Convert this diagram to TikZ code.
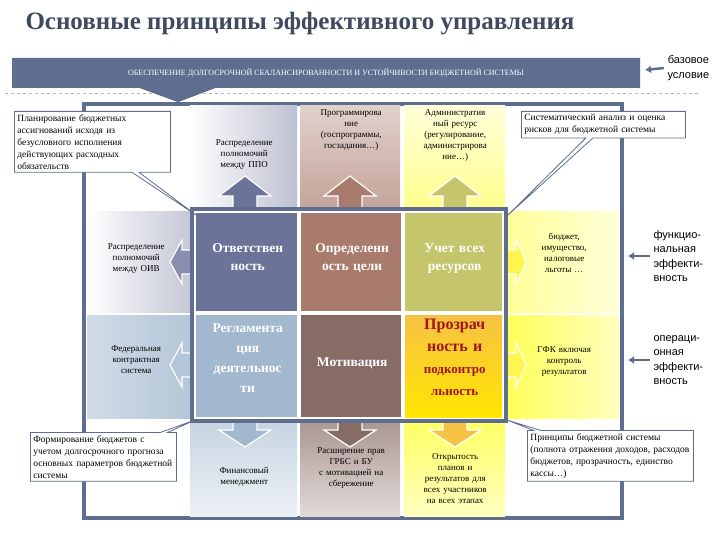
\documentclass[tikz,border=0pt]{standalone}
\usepackage{fontspec}
\setmainfont{Liberation Serif}
\newfontfamily\sansf{Liberation Sans}
\usetikzlibrary{shapes.callouts,arrows.meta}
\definecolor{frameC}{HTML}{5F6D8E}
\definecolor{slate}{HTML}{6C7398}
\definecolor{brownA}{HTML}{A97B6C}
\definecolor{olive}{HTML}{C5C66C}
\definecolor{steel}{HTML}{A2B8CF}
\definecolor{brownB}{HTML}{876C66}
\definecolor{orangeY}{HTML}{F6C244}
\definecolor{darkred}{HTML}{A0141A}
\definecolor{titleC}{HTML}{3E4A5E}
\tikzset{
 x=1pt,y=-1pt,
 cell/.style={anchor=north west,inner sep=1pt,align=center,font=\fontsize{9}{11}\selectfont},
 big/.style={cell,text=white,font=\bfseries\fontsize{13.5}{18}\selectfont},
 call/.style={rectangle callout,draw=frameC,fill=white,thick,anchor=north west,align=left,inner sep=3pt,font=\fontsize{9.5}{12}\selectfont},
 barrow/.style={fill=#1,draw=white,line width=1.2pt},
 side/.style={font=\sansf\fontsize{11}{14.5}\selectfont,align=left,anchor=west},
 sarrow/.style={draw=frameC,line width=2.5pt,-{Latex[length=6pt,width=8pt]}}
}
\begin{document}
\begin{tikzpicture}
\useasboundingbox (0,0) rectangle (720,540);
\fill[white] (0,0) rectangle (720,540);
\node[font=\bfseries\fontsize{25}{28}\selectfont,text=titleC,anchor=west] (title) at (22,24) {Основные принципы эффективного управления};
% banner
\fill[frameC] (12,58) -- (640,58) -- (640,88) -- (215,88) -- (178,102) -- (140,88) -- (12,88) -- cycle;
\node[text=white,font=\fontsize{8}{9}\selectfont] (banner) at (326,73) {ОБЕСПЕЧЕНИЕ ДОЛГОСРОЧНОЙ СБАЛАНСИРОВАННОСТИ И УСТОЙЧИВОСТИ БЮДЖЕТНОЙ СИСТЕМЫ};
\node[side,align=center] (base) at (664,68) {базовое\\условие};
\draw[sarrow] (base.west) -- (645,70);
\draw[gray!60,dashed] (5,93) -- (700,93);
% outer frame
\draw[frameC,line width=4pt,fill=white] (84,104) rectangle (622,518);
\fill[frameC] (140,88) -- (178,102) -- (215,88) -- cycle;
% top row
\shade[left color=white,right color=slate!45] (190,106) rectangle (297,210);
\shade[top color=brownA!35,bottom color=brownA!70] (300,106) rectangle (400,210);
\shade[top color=yellow!15,bottom color=yellow!45] (404,106) rectangle (505,210);
\node[cell,text width=100] (t1) at (193,138) {Распределение\\полномочий\\между ППО};
\node[cell,text width=96] (t2) at (302,108) {Программирова\\ние\\(госпрограммы,\\госзадания…)};
\node[cell,text width=98] (t3) at (405,108) {Административ\\ный ресурс\\(регулирование,\\администрирова\\ние…)};
% side cells
\shade[left color=white,right color=slate!40] (87,212) rectangle (190,312);
\shade[left color=steel!50,right color=steel!80] (87,315) rectangle (190,418);
\shade[left color=yellow!40,right color=yellow!15] (508,212) rectangle (619,312);
\shade[left color=yellow!65,right color=yellow!25] (508,315) rectangle (619,418);
\node[cell,text width=92] (l1) at (89,242) {Распределение\\полномочий\\между ОИВ};
\node[cell,text width=92] (l2) at (89,344) {Федеральная\\контрактная\\система};
\node[cell,text width=96] (r1) at (515,232) {бюджет,\\имущество,\\налоговые\\льготы …};
\node[cell,text width=96] (r2) at (515,345) {ГФК включая\\контроль\\результатов};
% bottom row
\shade[top color=steel!60,bottom color=steel!20] (190,423) rectangle (297,516);
\shade[top color=brownB!70,bottom color=brownB!25] (300,423) rectangle (400,516);
\shade[top color=yellow!60,bottom color=yellow!25] (404,423) rectangle (505,516);
\node[cell,text width=100] (b1) at (193,466) {Финансовый\\менеджмент};
\node[cell,text width=98] (b2) at (301,446) {Расширение прав\\ГРБС и БУ\\с мотивацией на\\сбережение};
\node[cell,text width=98] (b3) at (405,452) {Открытость\\планов и\\результатов для\\всех участников\\на всех этапах};
% block arrows
\foreach \cx/\c in {245/slate,350/brownA,455/olive}{
 \draw[barrow=\c] (\cx-12,210) -- (\cx-12,196) -- (\cx-26,196) -- (\cx,176) -- (\cx+26,196) -- (\cx+12,196) -- (\cx+12,210) -- cycle;}
\foreach \cx/\c in {245/steel,350/brownB,455/orangeY}{
 \draw[barrow=\c] (\cx-12,420) -- (\cx-12,430) -- (\cx-26,430) -- (\cx,447) -- (\cx+26,430) -- (\cx+12,430) -- (\cx+12,420) -- cycle;}
\foreach \cy/\c in {262/slate,365/steel}{
 \draw[barrow=\c!80] (192,\cy-12) -- (182,\cy-12) -- (182,\cy-22) -- (170,\cy) -- (182,\cy+22) -- (182,\cy+12) -- (192,\cy+12) -- cycle;}
\foreach \cy in {262,365}{
 \draw[barrow=yellow!70] (506,\cy-12) -- (516,\cy-12) -- (516,\cy-22) -- (526,\cy) -- (516,\cy+22) -- (516,\cy+12) -- (506,\cy+12) -- cycle;}
% inner frame
\draw[frameC,line width=4pt,fill=white] (192,209) rectangle (506,421);
\fill[slate] (196,213) rectangle (297,311);
\fill[brownA] (301,213) rectangle (401,311);
\fill[olive] (405,213) rectangle (502,311);
\fill[steel] (196,315) rectangle (297,417);
\fill[brownB] (301,315) rectangle (401,417);
\shade[top color=orangeY,bottom color=yellow!80!orange] (405,315) rectangle (502,417);
\node[big,text width=99] (c1) at (197,242) {Ответствен\\ность};
\node[big,text width=98] (c2) at (302,242) {Определенн\\ость цели};
\node[big,text width=95] (c3) at (406,242) {Учет всех\\ресурсов};
\node[big,text width=99,font=\bfseries\fontsize{13.5}{20}\selectfont] (c4) at (197,322) {Регламента\\ция\\деятельнос\\ти};
\node[big,text width=98] (c5) at (302,356) {Мотивация};
\node[cell,text width=95,text=darkred,font=\bfseries\fontsize{16}{22}\selectfont] (c6) at (406,318) {Прозрач\\ность и\\{\fontsize{13}{19}\selectfont подконтро}\\{\fontsize{13}{16}\selectfont льность}};
% callouts
\node[call,text width=150,callout absolute pointer={(196,215)}] (k1) at (14,111) {Планирование бюджетных ассигнований исходя из безусловного исполнения действующих расходных обязательств};
\node[call,text width=158,callout absolute pointer={(508,215)}] (k2) at (521,111) {Систематический анализ и оценка рисков для бюджетной системы};
\node[call,text width=140,callout absolute pointer={(195,420)}] (k3) at (30,432) {Формирование бюджетов с учетом долгосрочного прогноза основных параметров бюджетной системы};
\node[call,text width=160,callout absolute pointer={(507,420)}] (k4) at (527,430) {Принципы бюджетной системы (полнота отражения доходов, расходов бюджетов, прозрачность, единство кассы…)};
% right side labels
\node[side] (f1) at (650,256) {функцио-\\нальная\\эффекти-\\вность};
\node[side] (f2) at (650,360) {операци-\\онная\\эффекти-\\вность};
\draw[sarrow] (f1.west) -- (628,256);
\draw[sarrow] (f2.west) -- (628,360);
\end{tikzpicture}
\end{document}
